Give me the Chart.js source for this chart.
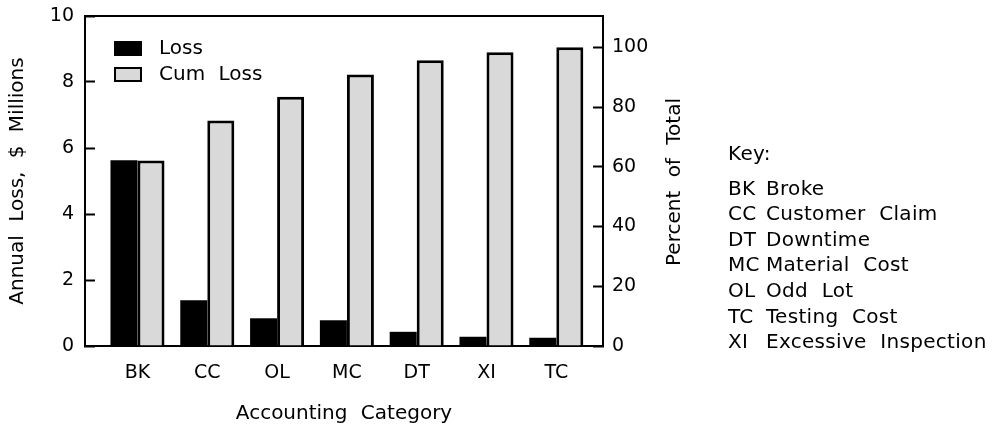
<!DOCTYPE html>
<html>
<head>
<meta charset="utf-8">
<script src="https://cdn.jsdelivr.net/npm/chart.js@4"></script>
<style>
  body { margin: 0; background: #fff; }
  #wrap { position: relative; width: 1003px; height: 426px; }
  #key {
    position: absolute; left: 728px; top: 141px;
    font: 20px "DejaVu Sans", sans-serif; color: #000;
    line-height: 25.6px; word-spacing: 7px; letter-spacing: 0.3px;
  }
  #key .head { margin-bottom: 9px; }
  #key .code { display: inline-block; width: 38px; }
</style>
</head>
<body>
<div id="wrap">
  <canvas id="paretoChart"></canvas>
  <div id="key"></div>
</div>
<script>
const categories = ['BK', 'CC', 'OL', 'MC', 'DT', 'XI', 'TC'];
const lossMillions = [5.63, 1.39, 0.84, 0.78, 0.43, 0.28, 0.25];
const cumLossPct = [62.1, 75.5, 83.5, 90.9, 95.7, 98.4, 100];
const lossTicks = [0, 2, 4, 6, 8, 10];
const pctTicks = [0, 20, 40, 60, 80, 100];
const keyCodes = ['BK', 'CC', 'DT', 'MC', 'OL', 'TC', 'XI'];
const keyNames = ['Broke', 'Customer Claim', 'Downtime', 'Material Cost', 'Odd Lot', 'Testing Cost', 'Excessive Inspection'];

// key text beside the chart
const key = document.getElementById('key');
key.innerHTML = '<div class="head">Key:</div>' +
  keyCodes.map((c, i) => '<div><span class="code">' + c + '</span>' + keyNames[i] + '</div>').join('');

Chart.defaults.font.family = '"DejaVu Sans", sans-serif';
Chart.defaults.color = '#000';

// top edge of the frame, legend inside the plot, right-hand title reading upward
const framePlugin = {
  id: 'frame',
  beforeDraw(chart) {
    chart.ctx.wordSpacing = '7px';
  },
  afterDraw(chart) {
    const {ctx, chartArea} = chart;
    ctx.save();
    ctx.wordSpacing = '7px';
    ctx.strokeStyle = '#000';
    ctx.lineWidth = 2;
    ctx.beginPath();
    ctx.moveTo(chartArea.left - 1, chartArea.top);
    ctx.lineTo(chartArea.right + 1, chartArea.top);
    ctx.stroke();

    // legend
    ctx.font = '20px "DejaVu Sans", sans-serif';
    ctx.textBaseline = 'middle';
    chart.data.datasets.forEach((ds, i) => {
      const bx = chartArea.left + 29, by = chartArea.top + 25 + i * 26;
      ctx.fillStyle = ds.backgroundColor;
      ctx.fillRect(bx, by, 28, 15);
      ctx.lineWidth = 2;
      ctx.strokeStyle = '#000';
      ctx.strokeRect(bx + 1, by + 1, 26, 13);
      ctx.fillStyle = '#000';
      ctx.fillText(ds.label, bx + 45, by + 8);
    });

    const y1 = chart.scales.y1;
    ctx.translate(y1.left + 72, (chartArea.top + chartArea.bottom) / 2 + 1);
    ctx.rotate(-Math.PI / 2);
    ctx.textAlign = 'center';
    ctx.fillText('Percent of Total', 0, 0);
    ctx.restore();
  }
};

// fixed axis sizes so the plot box sits where the original one does
const fitY = width => s => { s.width = width; s.paddingTop = 0; s.paddingBottom = 0; };

new Chart(document.getElementById('paretoChart'), {
  type: 'bar',
  data: {
    datasets: [
      {
        label: 'Loss',
        data: lossMillions.map((v, i) => ({x: i, y: v})),
        backgroundColor: '#000',
        borderWidth: 0,
        yAxisID: 'y',
        categoryPercentage: 0.774,
        barPercentage: 1.0
      },
      {
        label: 'Cum Loss',
        data: cumLossPct.map((v, i) => ({x: i, y: v})),
        backgroundColor: '#d9d9d9',
        borderColor: '#000',
        borderWidth: 3,
        yAxisID: 'y1',
        categoryPercentage: 0.774,
        barPercentage: 1.0
      }
    ]
  },
  options: {
    responsive: true,
    maintainAspectRatio: false,
    animation: false,
    layout: { padding: { left: 0, right: 300, top: 16, bottom: 0 } },
    plugins: {
      legend: { display: false },
      tooltip: { enabled: false }
    },
    scales: {
      x: {
        type: 'linear',
        offset: false,
        min: -0.752,
        max: 6.669,
        afterBuildTicks: s => { s.ticks = categories.map((c, i) => ({value: i})); },
        afterFit: s => { s.height = 80; },
        grid: { display: false },
        border: { display: true, color: '#000', width: 2 },
        ticks: {
          autoSkip: false, maxRotation: 0, padding: 8,
          font: { size: 19 },
          callback: v => categories[v]
        },
        title: {
          display: true, text: 'Accounting Category',
          font: { size: 20 }, padding: { top: 3, bottom: 0 }
        }
      },
      y: {
        position: 'left',
        min: 0,
        max: 10,
        afterBuildTicks: s => { s.ticks = lossTicks.map(v => ({value: v})); },
        afterFit: fitY(85),
        grid: {
          drawOnChartArea: false, drawTicks: true, tickLength: -10,
          tickColor: '#000', tickWidth: 2
        },
        border: { display: true, color: '#000', width: 2 },
        ticks: { padding: 21, font: { size: 19 } },
        title: {
          display: true, text: 'Annual Loss, $ Millions',
          font: { size: 20 }, padding: { top: 6, bottom: 0 }
        }
      },
      y1: {
        position: 'right',
        min: 0,
        max: 110.5,
        afterBuildTicks: s => { s.ticks = pctTicks.map(v => ({value: v})); },
        afterFit: fitY(100),
        grid: {
          drawOnChartArea: false, drawTicks: true, tickLength: -10,
          tickColor: '#000', tickWidth: 2
        },
        border: { display: true, color: '#000', width: 2 },
        ticks: { padding: 19, font: { size: 19 } }
      }
    }
  },
  plugins: [framePlugin]
});
</script>
</body>
</html>
